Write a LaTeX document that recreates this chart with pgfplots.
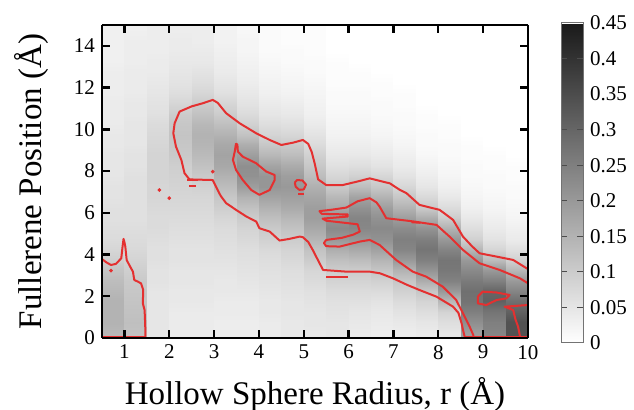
\documentclass[border=0pt]{standalone}
\usepackage{fontspec}
\setmainfont{Liberation Serif}
\usepackage{pgfplots}
\usepackage{pgfplotstable}
\pgfplotsset{compat=1.18}

\definecolor{contred}{RGB}{228,48,48}

% density: one column per radius bin (c1 = 0.5-1.0 ... c19 = 9.5-10.0)
\pgfplotstableread{
y c1 c2 c3 c4 c5 c6 c7 c8 c9 c10 c11 c12 c13 c14 c15 c16 c17 c18 c19
0 0.14 0.12 0.05 0.04 0.04 0.035 0.035 0.04 0.045 0.045 0.05 0.04 0.035 0.035 0.04 0.05 0.19 0.24 0.34
0.25 0.14 0.12 0.05 0.04 0.04 0.035 0.035 0.04 0.045 0.045 0.05 0.04 0.035 0.035 0.04 0.05 0.19 0.24 0.34
0.75 0.15 0.125 0.05 0.04 0.04 0.035 0.035 0.04 0.045 0.05 0.05 0.045 0.04 0.045 0.05 0.065 0.22 0.25 0.34
1.25 0.15 0.12 0.05 0.04 0.04 0.04 0.04 0.045 0.05 0.05 0.055 0.05 0.045 0.055 0.065 0.085 0.25 0.27 0.31
1.75 0.15 0.115 0.05 0.045 0.045 0.04 0.04 0.045 0.05 0.055 0.06 0.06 0.055 0.07 0.085 0.14 0.275 0.31 0.28
2.25 0.14 0.11 0.05 0.045 0.045 0.045 0.045 0.05 0.055 0.06 0.07 0.07 0.07 0.09 0.11 0.2 0.28 0.3 0.24
2.75 0.13 0.105 0.055 0.05 0.05 0.045 0.05 0.055 0.06 0.07 0.085 0.085 0.09 0.11 0.16 0.245 0.26 0.25 0.2
3.25 0.115 0.095 0.055 0.05 0.05 0.05 0.055 0.06 0.065 0.08 0.1 0.1 0.115 0.15 0.21 0.265 0.23 0.2 0.14
3.75 0.095 0.085 0.06 0.055 0.055 0.055 0.06 0.065 0.075 0.1 0.125 0.13 0.145 0.2 0.25 0.27 0.2 0.13 0.09
4.25 0.08 0.075 0.06 0.055 0.055 0.06 0.065 0.075 0.085 0.12 0.16 0.17 0.185 0.24 0.27 0.24 0.14 0.08 0.06
4.75 0.07 0.07 0.065 0.06 0.06 0.065 0.075 0.09 0.1 0.145 0.2 0.205 0.215 0.25 0.25 0.2 0.09 0.055 0.04
5.25 0.065 0.065 0.07 0.065 0.065 0.07 0.085 0.105 0.12 0.17 0.23 0.235 0.23 0.225 0.21 0.15 0.065 0.04 0.03
5.75 0.06 0.06 0.07 0.07 0.07 0.08 0.1 0.125 0.14 0.19 0.21 0.24 0.215 0.19 0.16 0.1 0.045 0.03 0.02
6.25 0.06 0.06 0.075 0.075 0.075 0.095 0.12 0.15 0.165 0.19 0.17 0.215 0.19 0.15 0.105 0.07 0.03 0.02 0.015
6.75 0.055 0.06 0.08 0.08 0.08 0.11 0.15 0.18 0.185 0.175 0.14 0.18 0.15 0.11 0.075 0.045 0.02 0.015 0.01
7.25 0.055 0.06 0.08 0.085 0.09 0.13 0.19 0.205 0.2 0.155 0.105 0.13 0.11 0.08 0.05 0.03 0.015 0.01 0.01
7.75 0.05 0.06 0.085 0.09 0.105 0.15 0.215 0.205 0.19 0.13 0.08 0.09 0.08 0.055 0.035 0.02 0.01 0.01 0.005
8.25 0.05 0.055 0.085 0.095 0.12 0.17 0.22 0.18 0.165 0.11 0.06 0.065 0.055 0.04 0.025 0.015 0.01 0.005 0.005
8.75 0.05 0.055 0.085 0.105 0.135 0.18 0.19 0.14 0.13 0.09 0.045 0.045 0.04 0.03 0.015 0.01 0.005 0.005 0
9.25 0.045 0.05 0.08 0.11 0.145 0.17 0.16 0.11 0.105 0.07 0.035 0.035 0.03 0.02 0.01 0.01 0.005 0 0
9.75 0.045 0.05 0.075 0.115 0.15 0.15 0.12 0.085 0.08 0.055 0.025 0.025 0.02 0.015 0.01 0.005 0 0 0
10.25 0.04 0.05 0.07 0.11 0.14 0.125 0.09 0.065 0.06 0.04 0.02 0.02 0.015 0.01 0.005 0.005 0 0 0
10.75 0.04 0.045 0.06 0.1 0.12 0.1 0.07 0.05 0.045 0.03 0.015 0.015 0.01 0.01 0.005 0 0 0 0
11.25 0.04 0.045 0.055 0.08 0.1 0.08 0.055 0.04 0.035 0.025 0.01 0.01 0.01 0.005 0 0 0 0 0
11.75 0.035 0.04 0.05 0.065 0.08 0.06 0.045 0.03 0.025 0.02 0.01 0.01 0.005 0.005 0 0 0 0 0
12.25 0.035 0.04 0.045 0.055 0.065 0.05 0.035 0.025 0.02 0.015 0.005 0.005 0.005 0 0 0 0 0 0
12.75 0.035 0.04 0.04 0.05 0.055 0.04 0.03 0.02 0.015 0.01 0.005 0.005 0 0 0 0 0 0 0
13.25 0.03 0.035 0.04 0.045 0.045 0.035 0.025 0.015 0.01 0.01 0.005 0 0 0 0 0 0 0 0
13.75 0.03 0.035 0.035 0.04 0.04 0.03 0.02 0.01 0.01 0.005 0 0 0 0 0 0 0 0 0
14.25 0.03 0.035 0.035 0.04 0.035 0.025 0.02 0.01 0.005 0.005 0 0 0 0 0 0 0 0 0
14.75 0.03 0.03 0.035 0.035 0.035 0.025 0.015 0.01 0.005 0.005 0 0 0 0 0 0 0 0 0
15 0.03 0.03 0.035 0.035 0.035 0.025 0.015 0.01 0.005 0.005 0 0 0 0 0 0 0 0 0
}\dens
% the same rows twice: left and right edge of each bin
\pgfplotstablevertcat{\densTwice}{\dens}
\pgfplotstablevertcat{\densTwice}{\dens}

\begin{document}
\begin{tikzpicture}
\begin{axis}[
  name=ax,
  width=213pt, height=156.5pt, scale only axis,
  view={0}{90},
  xmin=0.5, xmax=10, ymin=0, ymax=15,
  xtick={1,...,10}, ytick={0,2,...,14},
  axis on top,
  axis line style={line width=1.2pt},
  tick style={line width=1.2pt, black},
  major tick length=4pt, tick align=inside,
  /pgf/number format/assume math mode=true,
  tick label style={font=\fontsize{10.5}{12}\selectfont},
  xlabel={Hollow Sphere Radius, r (Å)},
  ylabel={Fullerene Position (Å)},
  label style={font=\fontsize{16.5}{19}\selectfont},
  xlabel style={at={(axis description cs:0.5,-0.214)}, anchor=base},
  ylabel style={at={(axis description cs:-0.141,0.5)}, anchor=base},
  colormap={bw}{gray(0cm)=(1); gray(1cm)=(0.1)},
  point meta min=0, point meta max=0.45,
  colorbar,
  colorbar style={
    at={(parent axis.north east)}, anchor=north west,
    xshift=8pt, yshift=1pt,
    width=11pt, height=160pt,
    ytick={0,0.05,...,0.45},
    ytick pos=both, yticklabel pos=right,
    tick align=inside, major tick length=3pt,
    tick style={line width=0.5pt, black!70},
    axis line style={line width=0.5pt, black!55},
    /pgf/number format/assume math mode=true,
    yticklabel style={font=\fontsize{10.5}{12}\selectfont,
      /pgf/number format/.cd, fixed, precision=2},
  },
]
\pgfplotsinvokeforeach{1,...,19}{
  \addplot3[surf, shader=interp, mesh/ordering=y varies, mesh/rows=32, mesh/cols=2]
    table[x expr={0.5*#1+0.5*(\coordindex>31)}, y=y, z=c#1] {\densTwice};
}

% contour lines (traced)
\pgfplotsset{cont/.style={contred, line width=1pt, line join=round, mark=none}}
\addplot[cont] coordinates {(0.5,3.78) (0.6,3.62) (0.7,3.5) (0.81,3.55) (0.93,3.82) (0.96,4.4) (0.98,4.75) (1.0,4.6) (1.02,4.38) (1.05,3.74) (1.12,3.45) (1.19,3.18) (1.22,2.78) (1.3,2.7) (1.37,2.62) (1.42,2.3) (1.41,1.66) (1.45,1.34) (1.46,0.8) (1.47,0.22) (1.47,0.04) (0.5,0.04)};
\addplot[cont] coordinates {(8.59,0.04) (8.55,0.4) (8.52,0.7) (8.45,1.2) (8.33,1.5) (7.96,1.98) (7.58,2.3) (7.3,2.55) (6.99,2.86) (6.7,3.1) (6.47,3.18) (5.95,3.18) (5.43,3.26) (5.3,3.8) (5.2,4.22) (5.1,4.6) (4.98,4.83) (4.91,4.86) (4.68,4.75) (4.46,4.67) (4.24,5.1) (4.01,5.26) (3.94,5.58) (3.72,5.82) (3.49,6.14) (3.27,6.46) (3.15,6.8) (3.08,7.09) (2.97,7.57) (2.45,7.6) (2.34,7.9) (2.27,8.53) (2.15,9.17) (2.09,9.81) (2.12,10.29) (2.23,10.85) (2.5,11.1) (2.75,11.25) (2.97,11.41) (3.08,11.27) (3.27,10.77) (3.57,10.29) (3.94,9.81) (4.24,9.49) (4.5,9.25) (4.76,9.36) (4.98,9.49) (5.1,9.3) (5.18,8.9) (5.25,8.3) (5.32,7.6) (5.5,7.33) (5.87,7.33) (6.2,7.5) (6.47,7.65) (6.92,7.41) (7.14,7.1) (7.29,6.94) (7.58,6.38) (8.03,6.14) (8.33,5.66) (8.55,4.86) (8.75,4.4) (8.92,4.06) (9.3,3.9) (9.67,3.74) (10,3.3)};
\addplot[cont] coordinates {(8.78,0.04) (8.78,0.14) (8.7,0.54) (8.55,1.18) (8.4,1.82) (8.1,2.46) (7.73,2.94) (7.43,3.18) (7.06,3.74) (6.69,4.46) (6.47,4.7) (6.25,4.62) (5.8,4.38) (5.5,4.4) (5.45,4.55) (5.5,4.7) (5.85,4.8) (6.1,4.95) (6.25,5.1) (6.2,5.45) (5.5,5.62) (5.42,5.72) (5.98,5.82) (5.98,5.92) (5.4,5.95) (5.35,6.08) (5.6,6.14) (5.95,6.25) (6.2,6.55) (6.47,6.7) (6.62,6.5) (6.69,6.3) (6.84,5.74) (7.43,5.59) (7.96,5.42) (8.25,4.86) (8.55,4.22) (8.92,3.58) (9.37,3.26) (9.82,2.86) (10,2.62)};
\addplot[cont] coordinates {(3.49,9.33) (3.46,8.93) (3.42,8.53) (3.49,8.05) (3.64,7.57) (3.83,7.09) (4.01,6.86) (4.24,7.09) (4.35,7.57) (4.35,7.81) (4.16,7.98) (3.94,8.37) (3.64,8.69) (3.53,8.93) (3.52,9.25) (3.49,9.33)};
\addplot[cont] coordinates {(4.8,7.45) (4.85,7.57) (4.97,7.55) (5.05,7.35) (5.0,7.12) (4.9,7.1) (4.82,7.25) (4.8,7.45)};
\addplot[cont] coordinates {(8.88,1.98) (8.99,2.22) (9.3,2.18) (9.59,2.06) (9.52,1.9) (9.3,1.82) (9.07,1.58) (8.88,1.66) (8.88,1.98)};
\addplot[cont] coordinates {(10,1.58) (9.48,1.5) (9.67,1.34) (9.72,0.9) (9.78,0.54) (9.82,0.1)};
\addplot[cont] coordinates {(8.59,0.04) (10,0.04)};
% short dashes
\addplot[cont] coordinates {(2.4,7.57) (2.63,7.57)};
\addplot[cont] coordinates {(2.45,7.3) (2.6,7.3)};
\addplot[cont] coordinates {(4.88,6.9) (5.0,6.9)};
\addplot[cont] coordinates {(5.5,2.94) (5.98,2.94)};
\addplot[cont] coordinates {(7.4,5.55) (7.6,5.52)};
\addplot[only marks, mark=*, mark size=0.7pt, contred] coordinates {(0.7,3.23) (1.78,7.09) (2.0,6.7) (2.97,7.97)};
\end{axis}
\pgfresetboundingbox
\path (ax.south west) ++(-51pt,-36pt) rectangle ++(317pt,205pt);
\end{tikzpicture}
\end{document}
